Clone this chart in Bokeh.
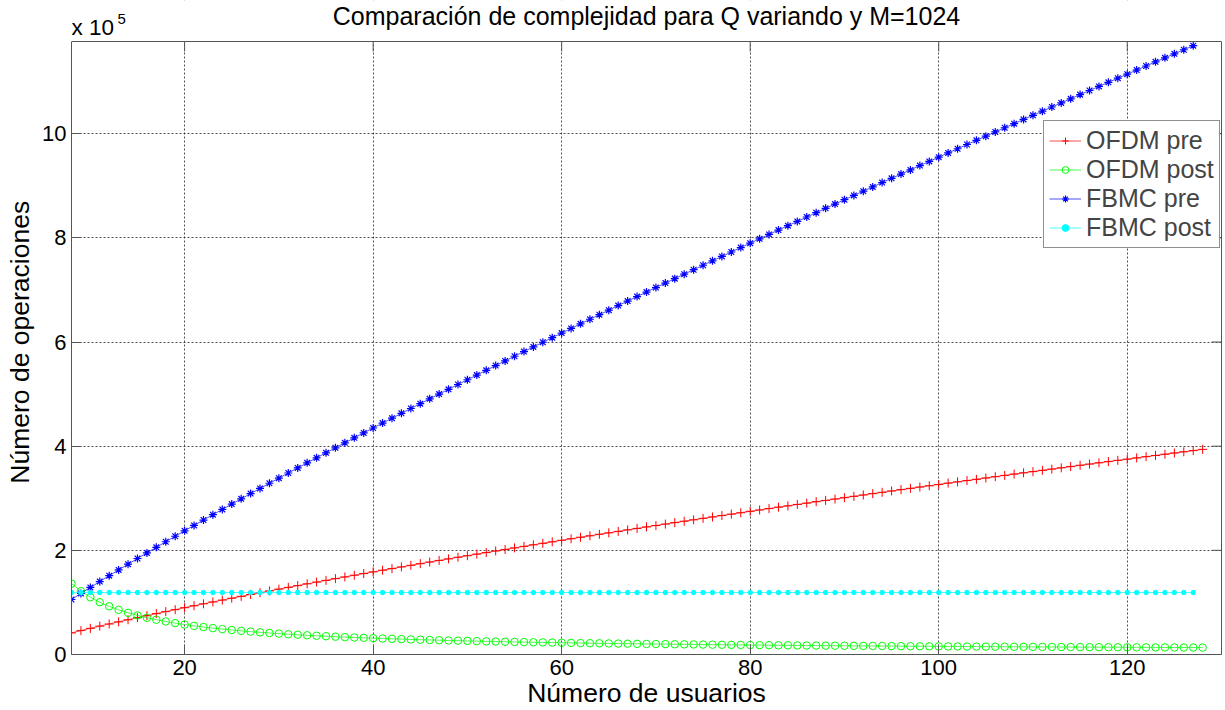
from bokeh.plotting import figure
from bokeh.models import (Range1d, FixedTicker, Label, Legend, LinearAxis,
                          BoxAnnotation, Span)
from bokeh.embed import file_html
from bokeh.resources import INLINE

# Number of users (Q)
usuarios = list(range(8, 129))
usuarios_fbmc = list(range(8, 128))

# Values in units of 1e5 operations
ofdm_pre = [
    0.415, 0.459, 0.502, 0.545, 0.586, 0.627, 0.667, 0.707, 0.746, 0.785,
    0.823, 0.861, 0.899, 0.936, 0.973, 1.009, 1.045, 1.081, 1.116, 1.152,
    1.186, 1.221, 1.255, 1.289, 1.323, 1.357, 1.390, 1.423, 1.456, 1.489,
    1.522, 1.554, 1.586, 1.618, 1.649, 1.681, 1.712, 1.744, 1.775, 1.806,
    1.836, 1.867, 1.897, 1.927, 1.957, 1.988, 2.017, 2.047, 2.076, 2.106,
    2.135, 2.164, 2.193, 2.222, 2.251, 2.279, 2.308, 2.336, 2.364, 2.393,
    2.421, 2.449, 2.477, 2.504, 2.532, 2.559, 2.586, 2.614, 2.641, 2.668,
    2.695, 2.722, 2.749, 2.775, 2.802, 2.829, 2.854, 2.881, 2.907, 2.934,
    2.959, 2.985, 3.011, 3.037, 3.063, 3.089, 3.114, 3.140, 3.165, 3.190,
    3.215, 3.240, 3.265, 3.291, 3.315, 3.340, 3.364, 3.389, 3.414, 3.439,
    3.464, 3.488, 3.512, 3.536, 3.560, 3.584, 3.608, 3.633, 3.656, 3.681,
    3.704, 3.728, 3.751, 3.775, 3.799, 3.822, 3.845, 3.869, 3.892, 3.915,
    3.939,
]

ofdm_post = [
    1.362, 1.216, 1.100, 1.004, 0.925, 0.858, 0.800, 0.750, 0.706, 0.668,
    0.634, 0.603, 0.575, 0.550, 0.528, 0.507, 0.488, 0.470, 0.454, 0.439,
    0.426, 0.413, 0.401, 0.389, 0.379, 0.369, 0.359, 0.351, 0.342, 0.334,
    0.327, 0.320, 0.313, 0.307, 0.301, 0.295, 0.289, 0.284, 0.279, 0.274,
    0.269, 0.265, 0.261, 0.257, 0.253, 0.249, 0.245, 0.242, 0.238, 0.235,
    0.232, 0.229, 0.226, 0.223, 0.220, 0.217, 0.215, 0.212, 0.210, 0.208,
    0.205, 0.203, 0.201, 0.199, 0.197, 0.195, 0.193, 0.191, 0.189, 0.187,
    0.185, 0.184, 0.182, 0.180, 0.179, 0.177, 0.176, 0.174, 0.173, 0.172,
    0.170, 0.169, 0.168, 0.166, 0.165, 0.164, 0.163, 0.161, 0.160, 0.159,
    0.158, 0.157, 0.156, 0.155, 0.154, 0.153, 0.152, 0.151, 0.150, 0.149,
    0.148, 0.147, 0.146, 0.146, 0.145, 0.144, 0.143, 0.142, 0.141, 0.141,
    0.140, 0.139, 0.138, 0.138, 0.137, 0.136, 0.136, 0.135, 0.134, 0.134,
    0.133,
]

fbmc_pre = [
    1.056, 1.172, 1.288, 1.401, 1.513, 1.624, 1.734, 1.843, 1.951, 2.058,
    2.165, 2.270, 2.375, 2.479, 2.582, 2.685, 2.786, 2.888, 2.989, 3.089,
    3.189, 3.288, 3.386, 3.485, 3.582, 3.680, 3.776, 3.873, 3.969, 4.064,
    4.160, 4.255, 4.349, 4.443, 4.537, 4.630, 4.723, 4.816, 4.909, 5.001,
    5.092, 5.184, 5.275, 5.366, 5.457, 5.547, 5.637, 5.727, 5.817, 5.906,
    5.995, 6.084, 6.172, 6.260, 6.349, 6.437, 6.524, 6.612, 6.699, 6.786,
    6.872, 6.959, 7.046, 7.131, 7.217, 7.303, 7.388, 7.474, 7.559, 7.644,
    7.728, 7.813, 7.898, 7.982, 8.066, 8.150, 8.233, 8.316, 8.400, 8.483,
    8.566, 8.649, 8.732, 8.814, 8.896, 8.978, 9.061, 9.143, 9.224, 9.305,
    9.387, 9.468, 9.549, 9.630, 9.711, 9.792, 9.873, 9.953, 10.033, 10.114,
    10.193, 10.273, 10.353, 10.433, 10.512, 10.591, 10.670, 10.750, 10.829, 10.908,
    10.986, 11.065, 11.143, 11.222, 11.300, 11.379, 11.456, 11.534, 11.612, 11.689,
]

fbmc_post = [
    1.19, 1.19, 1.19, 1.19, 1.19, 1.19, 1.19, 1.19, 1.19, 1.19,
    1.19, 1.19, 1.19, 1.19, 1.19, 1.19, 1.19, 1.19, 1.19, 1.19,
    1.19, 1.19, 1.19, 1.19, 1.19, 1.19, 1.19, 1.19, 1.19, 1.19,
    1.19, 1.19, 1.19, 1.19, 1.19, 1.19, 1.19, 1.19, 1.19, 1.19,
    1.19, 1.19, 1.19, 1.19, 1.19, 1.19, 1.19, 1.19, 1.19, 1.19,
    1.19, 1.19, 1.19, 1.19, 1.19, 1.19, 1.19, 1.19, 1.19, 1.19,
    1.19, 1.19, 1.19, 1.19, 1.19, 1.19, 1.19, 1.19, 1.19, 1.19,
    1.19, 1.19, 1.19, 1.19, 1.19, 1.19, 1.19, 1.19, 1.19, 1.19,
    1.19, 1.19, 1.19, 1.19, 1.19, 1.19, 1.19, 1.19, 1.19, 1.19,
    1.19, 1.19, 1.19, 1.19, 1.19, 1.19, 1.19, 1.19, 1.19, 1.19,
    1.19, 1.19, 1.19, 1.19, 1.19, 1.19, 1.19, 1.19, 1.19, 1.19,
    1.19, 1.19, 1.19, 1.19, 1.19, 1.19, 1.19, 1.19, 1.19, 1.19,
]

x_ticks = [20, 40, 60, 80, 100, 120]
y_ticks = [0, 2, 4, 6, 8, 10]
titulo = "Comparación de complejidad para Q variando y M=1024"

FONT = "Liberation Sans"
X_MIN, X_MAX = 8, 130
Y_TOP = 11.77            # top of the axes box
BOX_LEFT_PX, BOX_RIGHT_PX = 71, 1221
BOX_TOP_PX = 41          # box top, pixels from the top of the canvas
BOX_BOTTOM_PX = 654      # box bottom, pixels from the top of the canvas
PX_PER_UNIT = (BOX_BOTTOM_PX - BOX_TOP_PX) / Y_TOP
PX_PER_X = (BOX_RIGHT_PX - BOX_LEFT_PX) / (X_MAX - X_MIN)
Y_EXT = Y_TOP + BOX_TOP_PX / PX_PER_UNIT   # frame extended to the canvas top
TICK_PX = 10


def y_at(px):
    """data y for a pixel row measured from the canvas top"""
    return Y_TOP + (BOX_TOP_PX - px) / PX_PER_UNIT


p = figure(width=1225, height=710, output_backend="svg", toolbar_location=None,
           title_location=None,
           x_range=Range1d(X_MIN, X_MAX), y_range=Range1d(0, Y_EXT),
           min_border_left=BOX_LEFT_PX, min_border_right=4, min_border_top=0,
           min_border_bottom=56)

p.outline_line_color = None

for ax in (p.xaxis[0], p.yaxis[0]):
    ax.major_tick_in = TICK_PX
    ax.major_tick_out = 0
    ax.minor_tick_in = 0
    ax.minor_tick_out = 0
    ax.axis_line_color = "#555555"
    ax.major_tick_line_color = "#555555"
    ax.major_label_text_font = FONT
    ax.major_label_text_font_size = "22px"
    ax.major_label_text_color = "black"
    ax.axis_label_text_font = FONT
    ax.axis_label_text_font_size = "26.5px"
    ax.axis_label_text_font_style = "normal"
    ax.axis_label_text_color = "black"

p.xaxis[0].ticker = FixedTicker(ticks=x_ticks)
p.yaxis[0].ticker = FixedTicker(ticks=y_ticks)
p.yaxis[0].bounds = (0, Y_TOP)
p.xaxis[0].axis_label = "Número de usuarios"
# trailing no-break spaces move the centred label down to the box centre
p.yaxis[0].axis_label = "Número de operaciones\u00a0\u00a0\u00a0\u00a0"
p.xaxis[0].major_label_standoff = 5
p.xaxis[0].axis_label_standoff = 0
p.yaxis[0].major_label_standoff = 5
p.yaxis[0].axis_label_standoff = 4

# right edge of the box
ax_r = LinearAxis(ticker=FixedTicker(ticks=[]), bounds=(0, Y_TOP),
                  axis_line_color="#555555", major_tick_in=0, major_tick_out=0,
                  minor_tick_in=0, minor_tick_out=0)
p.add_layout(ax_r, "right")

p.xgrid.ticker = FixedTicker(ticks=x_ticks)
p.ygrid.ticker = FixedTicker(ticks=y_ticks)
for g in (p.xgrid[0], p.ygrid[0]):
    g.grid_line_color = "#222222"
    g.grid_line_dash = "2 2"
    g.grid_line_width = 0.8

r1l = p.line(usuarios, ofdm_pre, line_color="#ff0000", line_width=0.7)
r1m = p.scatter(usuarios, ofdm_pre, marker="cross", size=9, line_color="#ff0000", line_width=1)
r2l = p.line(usuarios, ofdm_post, line_color="#00ff00", line_width=0.7)
r2m = p.scatter(usuarios, ofdm_post, marker="circle", size=7.5, line_color="#00ff00",
                fill_color=None, line_width=1)
r3l = p.line(usuarios_fbmc, fbmc_pre, line_color="#0000ff", line_width=0.7)
r3m = p.scatter(usuarios_fbmc, fbmc_pre, marker="asterisk", size=8, line_color="#0000ff", line_width=1.2)
r4l = p.line(usuarios_fbmc, fbmc_post, line_color="#00ffff", line_width=0.7)
r4m = p.scatter(usuarios_fbmc, fbmc_post, marker="circle", size=4.5, line_color="#00ffff",
                fill_color="#00ffff")

# inward ticks on the top and right edges of the box
tick_dx = TICK_PX / PX_PER_X
tick_dy = TICK_PX / PX_PER_UNIT
p.segment(x0=x_ticks, x1=x_ticks, y0=[Y_TOP] * len(x_ticks),
          y1=[Y_TOP - tick_dy] * len(x_ticks), line_color="#555555", line_width=1)
p.segment(x0=[X_MAX] * len(y_ticks), x1=[X_MAX - tick_dx] * len(y_ticks),
          y0=y_ticks, y1=y_ticks, line_color="#555555", line_width=1)

# white area above the box (hides grid lines there), then the box top edge
mask = BoxAnnotation(bottom=Y_TOP, fill_color="white", fill_alpha=1.0, line_alpha=0)
p.add_layout(mask)
top_edge = Span(location=Y_TOP, dimension="width", line_color="#555555", line_width=1)
p.add_layout(top_edge)

legend = Legend(items=[("OFDM pre", [r1l, r1m]), ("OFDM post", [r2l, r2m]),
                       ("FBMC pre", [r3l, r3m]), ("FBMC post", [r4l, r4m])],
                location=(972, 406), padding=5, margin=0, spacing=0,
                glyph_width=32, glyph_height=17, label_height=29, label_standoff=5,
                label_text_font=FONT, label_text_font_size="25px",
                border_line_color="#222222", border_line_width=1,
                background_fill_color="white", background_fill_alpha=1)
p.add_layout(legend, "center")

# title and "x 10^5" exponent marker
title_lbl = Label(x=(X_MIN + X_MAX) / 2, y=y_at(15), text=titulo, text_font=FONT,
                  text_font_size="25px", text_baseline="alphabetic", text_align="center",
                  text_color="black")
lbl = Label(x=X_MIN, y=y_at(27), text="x 10", text_font=FONT,
            text_font_size="22.5px", text_baseline="alphabetic", text_align="left",
            text_color="black")
sup = Label(x=X_MIN + 46 / PX_PER_X, y=y_at(18), text="5",
            text_font=FONT, text_font_size="15px", text_baseline="alphabetic",
            text_align="left", text_color="black")
p.add_layout(title_lbl)
p.add_layout(lbl)
p.add_layout(sup)

open("out.html", "w").write(file_html(p, INLINE))
